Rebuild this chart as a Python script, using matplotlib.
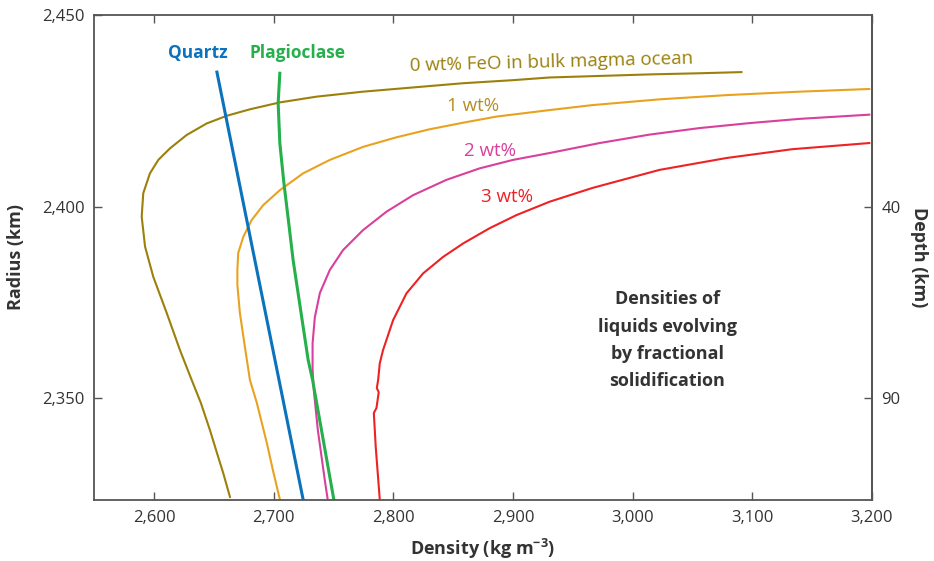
import matplotlib
matplotlib.use("Agg")
import matplotlib.pyplot as plt
from matplotlib.ticker import FuncFormatter

plt.rcParams['font.family'] = ['Open Sans', 'DejaVu Sans']
plt.rcParams['mathtext.fontset'] = 'custom'
plt.rcParams['mathtext.rm'] = 'Open Sans'
plt.rcParams['mathtext.bf'] = 'Open Sans:bold'

# densities (kg m-3) and radii (km)
feo0_d = [2663.4, 2657.8, 2653.6, 2646.7, 2639.1, 2631.4, 2621.6, 2610.5, 2599.3,
          2592.4, 2589.6, 2590.9, 2596.5, 2603.5, 2613.2, 2627.2, 2643.9, 2660.6,
          2680.1, 2705.1, 2735.8, 2774.7, 2816.5, 2858.3, 2900.0, 2930.7, 2972.5,
          3014.2, 3056.0, 3091.1]
feo0_r = [2324.3, 2330.5, 2334.7, 2341.7, 2348.8, 2354.8, 2362.6, 2372.3, 2381.7,
          2389.6, 2397.4, 2403.5, 2408.7, 2412.2, 2415.2, 2418.7, 2421.7, 2423.7,
          2425.4, 2427.2, 2428.7, 2430.0, 2431.1, 2432.2, 2433.0, 2433.7, 2434.1,
          2434.5, 2434.8, 2435.1]

feo1_d = [2705.1, 2699.3, 2694.3, 2685.9, 2680.1, 2675.9, 2671.7, 2669.6, 2669.6,
          2670.3, 2674.5, 2681.5, 2691.2, 2705.1, 2724.6, 2746.9, 2774.7, 2802.6,
          2830.5, 2858.3, 2886.2, 2930.7, 2966.6, 3022.6, 3078.6, 3139.6, 3198.0]
feo1_r = [2323.7, 2331.3, 2338.3, 2348.8, 2354.8, 2363.4, 2372.3, 2379.6, 2383.5,
          2387.9, 2392.1, 2396.5, 2400.4, 2404.3, 2408.7, 2412.2, 2415.6, 2418.1,
          2420.2, 2421.9, 2423.5, 2425.2, 2426.5, 2428.0, 2429.1, 2430.0, 2430.7]

feo2_d = [2745.2, 2742.7, 2736.9, 2733.5, 2732.5, 2732.5, 2734.4, 2738.6, 2746.9,
          2758.0, 2774.7, 2794.3, 2816.5, 2844.4, 2872.2, 2900.0, 2930.7, 2972.5,
          3014.2, 3056.0, 3097.8, 3139.6, 3198.0]
feo2_r = [2323.5, 2328.7, 2341.7, 2352.2, 2357.4, 2364.4, 2371.2, 2377.5, 2383.5,
          2388.7, 2393.9, 2398.7, 2403.0, 2407.0, 2410.0, 2412.2, 2414.0, 2416.6,
          2418.8, 2420.5, 2421.8, 2422.9, 2424.0]

feo3_d = [2788.7, 2785.3, 2783.7, 2785.9, 2787.8, 2786.2, 2787.3, 2788.7, 2791.4,
          2799.8, 2811.0, 2824.9, 2841.6, 2858.3, 2880.6, 2902.9, 2930.7, 2966.6,
          3022.6, 3078.6, 3133.7, 3198.0]
feo3_r = [2323.5, 2337.3, 2346.2, 2347.5, 2351.6, 2352.7, 2354.8, 2359.2, 2362.6,
          2370.4, 2377.4, 2382.6, 2386.9, 2390.4, 2394.4, 2397.8, 2401.3, 2404.9,
          2409.6, 2412.7, 2415.0, 2416.6]

quartz_d = [2652.5, 2724.6]
quartz_r = [2435.1, 2323.6]

plag_d = [2705.1, 2703.7, 2705.1, 2708.5, 2712.9, 2716.2, 2720.4, 2724.6, 2728.8,
          2732.5, 2750.2]
plag_r = [2434.8, 2427.0, 2416.6, 2406.2, 2394.8, 2386.1, 2377.4, 2368.7, 2360.0,
          2354.8, 2323.7]

x_ticks = [2600, 2700, 2800, 2900, 3000, 3100, 3200]
y_ticks = [2350, 2400, 2450]
depth_ticks = [40, 90]

fig = plt.figure(figsize=(9.34, 5.61), dpi=100)
ax = fig.add_axes([0.101, 0.1087, 0.8323, 0.8646])

ax.plot(feo0_d, feo0_r, color='#9b800c', lw=1.5)
ax.plot(feo1_d, feo1_r, color='#e9a21f', lw=1.5)
ax.plot(feo2_d, feo2_r, color='#d8409b', lw=1.5)
ax.plot(feo3_d, feo3_r, color='#ed2224', lw=1.5)
ax.plot(quartz_d, quartz_r, color='#0b72bd', lw=2.2)
ax.plot(plag_d, plag_r, color='#25b04b', lw=2.2)

ax.set_xlim(2550, 3200)
ax.set_ylim(2323.5, 2450)
ax.set_xticks(x_ticks)
ax.set_yticks(y_ticks)
fmt = FuncFormatter(lambda v, p: '{:,.0f}'.format(v))
ax.xaxis.set_major_formatter(fmt)
ax.yaxis.set_major_formatter(fmt)
ax.tick_params(direction='in', length=6, width=1, color='#555555',
               labelsize=12, labelcolor='#333333', top=True, pad=7)

for s in ax.spines.values():
    s.set_color('#555555')
    s.set_linewidth(1.3)

sec = ax.secondary_yaxis('right', functions=(lambda r: 2440 - r, lambda d: 2440 - d))
sec.set_yticks(depth_ticks)
sec.tick_params(direction='in', length=6, width=1, color='#555555',
                labelsize=12, labelcolor='#333333', pad=7)
sec.spines['right'].set_color('#555555')
sec.spines['right'].set_linewidth(1.3)
sec.set_ylabel('Depth (km)', fontsize=13, fontweight='bold', color='#333333',
               rotation=-90, labelpad=20)

ax.set_xlabel(r'Density (kg m$^{\mathbf{-3}}$)', fontsize=13, fontweight='bold',
              color='#333333', va='center')
ax.xaxis.set_label_coords(0.5, -0.101)
ax.set_ylabel('Radius (km)', fontsize=13, fontweight='bold', color='#333333',
              labelpad=12)

ax.text(2636.6, 2440.1, 'Quartz', color='#0b72bd', fontsize=12.5,
        fontweight='bold', ha='center', va='center')
ax.text(2720.1, 2440.1, 'Plagioclase', color='#25b04b', fontsize=12.5,
        fontweight='bold', ha='center', va='center')
ax.text(2932.4, 2437.6, '0 wt% FeO in bulk magma ocean', color='#9b800c',
        fontsize=13.5, ha='center', va='center', rotation=1.5)
ax.text(2866.9, 2426.3, '1 wt%', color='#b58f22', fontsize=13.5,
        ha='center', va='center')
ax.text(2881.0, 2414.5, '2 wt%', color='#d8409b', fontsize=13.5,
        ha='center', va='center')
ax.text(2895.2, 2402.5, '3 wt%', color='#ed2224', fontsize=13.5,
        ha='center', va='center')
ax.text(3029.3, 2365.2, 'Densities of\nliquids evolving\nby fractional\nsolidification',
        color='#333333', fontsize=13, fontweight='bold', ha='center',
        va='center', linespacing=1.66)

fig.savefig('out.png', dpi=100)
